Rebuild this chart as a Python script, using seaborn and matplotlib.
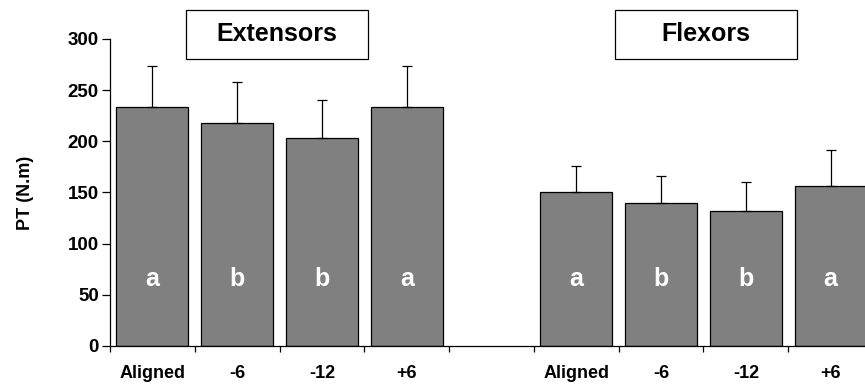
import matplotlib
matplotlib.use('Agg')
import matplotlib.pyplot as plt
from matplotlib.patches import Rectangle
import numpy as np
import pandas as pd
import seaborn as sns

# data
angles = ["Aligned", "-6", "-12", "+6"]
ext_pt = [234, 218, 203, 234]
ext_sd = [40, 40, 37, 40]
flex_pt = [150, 140, 132, 156]
flex_sd = [26, 26, 28, 36]
ext_letters = ["a", "b", "b", "a"]
flex_letters = ["a", "b", "b", "a"]

sns.set_style("white")
plt.rcParams['font.family'] = ['Liberation Sans', 'DejaVu Sans']
plt.rcParams['font.weight'] = 'bold'
plt.rcParams['text.color'] = 'black'
plt.rcParams['axes.labelcolor'] = 'black'
plt.rcParams['xtick.color'] = 'black'
plt.rcParams['ytick.color'] = 'black'

df = pd.DataFrame({
    "key": ["Ext " + a for a in angles] + ["Flex " + a for a in angles],
    "pt": ext_pt + flex_pt,
    "sd": ext_sd + flex_sd,
    "letter": ext_letters + flex_letters,
})
order = ["Ext " + a for a in angles] + ["gap"] + ["Flex " + a for a in angles]
tick_labels = angles + [""] + angles

fig = plt.figure(figsize=(8.65, 3.85), dpi=100)
ax = fig.add_axes([110 / 865, 39 / 385, 763 / 865, 307 / 385])

sns.barplot(data=df, x="key", y="pt", order=order, color="#808080",
            saturation=1, width=0.85, edgecolor="black", linewidth=0.9,
            errorbar=None, ax=ax)

pos = np.array([order.index(k) for k in df["key"]])
ax.errorbar(pos, df["pt"], yerr=[np.zeros(len(df)), df["sd"]], fmt="none",
            ecolor="black", elinewidth=0.9, capsize=3.6, capthick=0.9, zorder=3)

for p, l in zip(pos, df["letter"]):
    ax.text(p, 65, l, color="white", fontsize=18, fontweight="bold",
            ha="center", va="center")

ax.set_xlim(-0.5, 8.5)
ax.set_ylim(0, 300)
ax.set_yticks(range(0, 301, 50))
ax.set_xticks(range(9))
ax.set_xticklabels(tick_labels)
ax.set_xticks(np.arange(-0.5, 9, 1), minor=True)
ax.tick_params(axis="x", which="major", length=0, pad=14, labelsize=13)
ax.tick_params(axis="x", which="minor", length=4, width=0.9, direction="out",
               color="black", bottom=True)
ax.tick_params(axis="y", length=6, width=0.9, direction="out", color="black",
               left=True, labelsize=13.5, pad=2)
for t in ax.get_xticklabels() + ax.get_yticklabels():
    t.set_fontweight("bold")
ax.set_xlabel("")
ax.set_ylabel("PT (N.m)", fontsize=13, fontweight="bold", labelpad=24)

sns.despine(ax=ax)
for s in ["left", "bottom"]:
    ax.spines[s].set_color("black")
    ax.spines[s].set_linewidth(0.9)

# title boxes
for label, x0, x1 in [("Extensors", 186, 368), ("Flexors", 615, 797)]:
    fig.add_artist(Rectangle((x0 / 865, 1 - 59 / 385), (x1 - x0) / 865, 49 / 385,
                             transform=fig.transFigure, facecolor="white",
                             edgecolor="black", linewidth=0.9))
    fig.text((x0 + x1) / 2 / 865, 1 - 34 / 385, label, fontsize=18,
             fontweight="bold", ha="center", va="center")

fig.savefig("out.png", dpi=100)
